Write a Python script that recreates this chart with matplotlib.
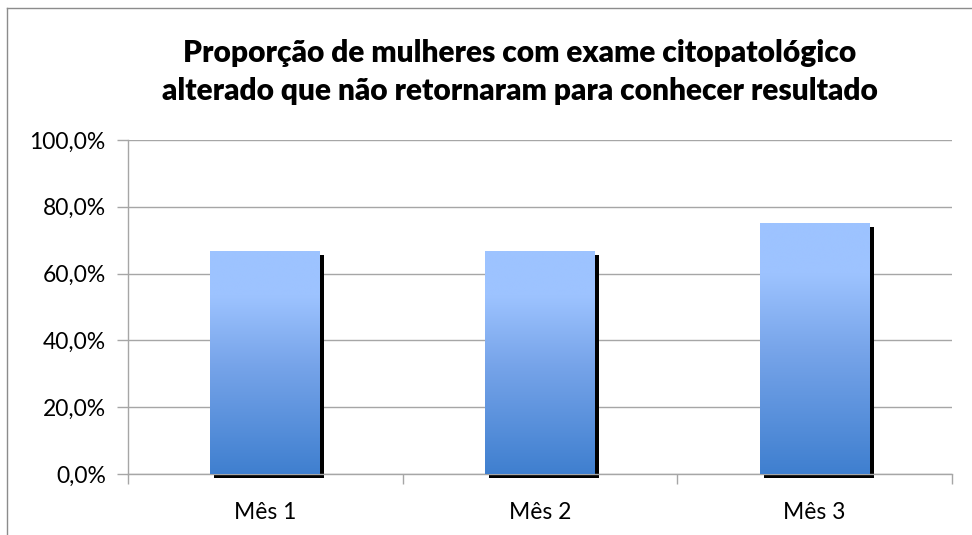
import matplotlib
matplotlib.use("Agg")
import matplotlib.pyplot as plt
import numpy as np
from matplotlib.transforms import ScaledTranslation
from matplotlib.lines import Line2D
from matplotlib.colors import LinearSegmentedColormap

categories = ["Mês 1", "Mês 2", "Mês 3"]
values = [66.7, 66.7, 75.0]
yticks = [0, 20, 40, 60, 80, 100]
ytick_labels = ["0,0%", "20,0%", "40,0%", "60,0%", "80,0%", "100,0%"]
title = "Proporção de mulheres com exame citopatológico\nalterado que não retornaram para conhecer resultado"

plt.rcParams['font.family'] = ['Lato', 'DejaVu Sans']

fig = plt.figure(figsize=(9.72, 5.35), dpi=100)
ax = fig.add_axes([128/972, 1-474/535, (952-128)/972, (474-140)/535])

x = np.arange(len(categories))
width = 0.40
grid_col = "#a6a6a6"

cmap = LinearSegmentedColormap.from_list(
    "g", [(0, "#3f7fcf"), (0.5, "#78a5ea"), (0.8, "#9dc3ff"), (1, "#9dc3ff")])
grad = np.linspace(0, 1, 256).reshape(-1, 1)

shadow_tr = ax.transData + ScaledTranslation(4/100, -4/100, fig.dpi_scale_trans)
for xi, v in zip(x, values):
    ax.bar(xi, v, width=width, color="black", transform=shadow_tr, zorder=2, clip_on=False)
bars = ax.bar(x, values, width=width, color="none", zorder=3)
for b, v in zip(bars, values):
    x0 = b.get_x()
    im = ax.imshow(grad, cmap=cmap, origin="lower", aspect="auto",
                   extent=[x0, x0 + width, 0, v], zorder=3, interpolation="bicubic")
    im.set_clip_path(b)

ax.set_xlim(-0.5, len(categories) - 0.5)
ax.set_ylim(0, 100)
ax.set_yticks(yticks)
ax.set_yticklabels(ytick_labels, fontsize=16.5)
ax.set_xticks(x)
ax.set_xticklabels(categories, fontsize=16.5)
ax.set_xticks(np.arange(-0.5, len(categories)), minor=True)
ax.tick_params(axis="x", which="major", length=0, pad=20)
ax.tick_params(axis="x", which="minor", length=7, color=grid_col, width=1)
ax.tick_params(axis="y", length=8, color=grid_col, width=1, pad=8)
ax.yaxis.grid(True, color=grid_col, linewidth=1)
ax.set_axisbelow(True)
for s in ["top", "right"]:
    ax.spines[s].set_visible(False)
for s in ["left", "bottom"]:
    ax.spines[s].set_color(grid_col)
    ax.spines[s].set_linewidth(1)

fig.text(0.535, 1-72/535, title, ha="center", va="center", fontsize=21.5,
         fontweight="heavy", linespacing=1.42)

fig.add_artist(Line2D([7/972, 7/972], [0, 1-8/535], color="#8c8c8c", linewidth=1, transform=fig.transFigure))
fig.add_artist(Line2D([7/972, 1], [1-8/535, 1-8/535], color="#8c8c8c", linewidth=1, transform=fig.transFigure))

fig.savefig("out.png", dpi=100)
